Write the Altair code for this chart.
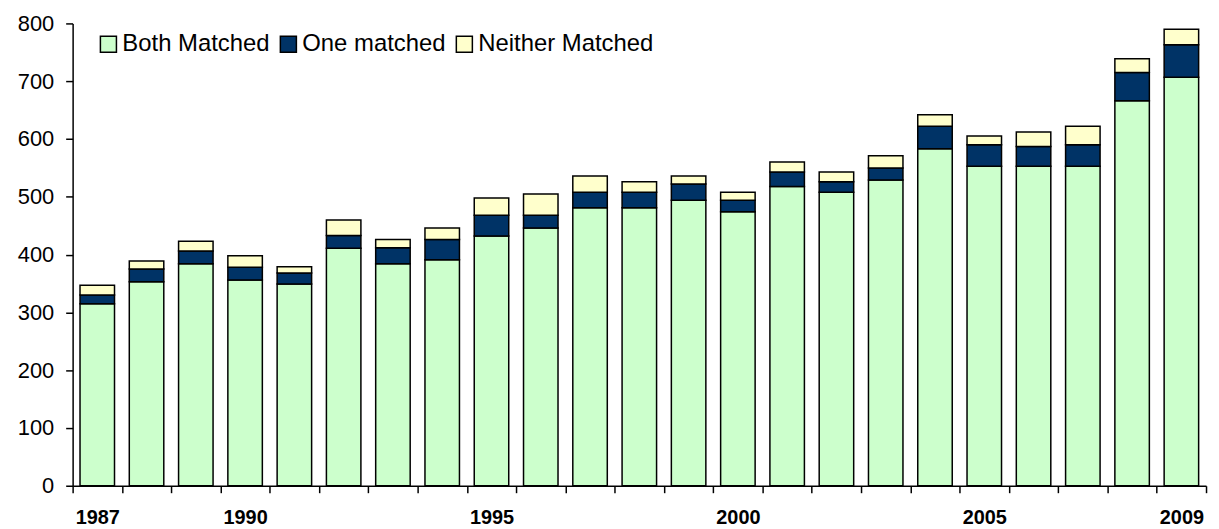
import altair as alt
import pandas as pd

years = list(range(1987, 2010))
both = [315, 353, 384, 356, 349, 411, 384, 391, 432, 446, 481, 481, 494, 474, 518, 508, 529, 583, 553, 553, 553, 666, 707]
one = [15, 22, 22, 22, 19, 22, 28, 35, 36, 22, 27, 27, 28, 20, 25, 18, 21, 39, 37, 34, 37, 49, 56]
neither = [17, 14, 17, 20, 11, 27, 14, 20, 30, 37, 28, 18, 14, 14, 17, 17, 21, 20, 15, 25, 32, 24, 27]
series = ["Both Matched", "One matched", "Neither Matched"]
colors = ["#CCFFCC", "#003366", "#FFFFCC"]
shown_years = ["1987", "1990", "1995", "2000", "2005", "2009"]

rows = []
for i, y in enumerate(years):
    for k, (name, vals) in enumerate(zip(series, [both, one, neither])):
        rows.append({"year": str(y), "series": name, "value": vals[i], "order": k})
df = pd.DataFrame(rows)

font = "Liberation Sans"
label_expr = "indexof([" + ",".join(f"'{s}'" for s in shown_years) + "], datum.value) >= 0 ? datum.value : ''"

chart = alt.Chart(df).mark_bar(stroke="black", strokeWidth=1.5,
                               width=alt.RelativeBandSize(0.7)).encode(
    x=alt.X("year:N", title=None,
            scale=alt.Scale(paddingInner=0, paddingOuter=0),
            axis=alt.Axis(labelAngle=0, tickBand="extent", labelAlign="center",
                          labelExpr=label_expr, labelFont=font, labelFontSize=20,
                          labelFontWeight="bold", labelColor="black", labelPadding=15,
                          tickColor="black", tickSize=7, domainColor="black",
                          domainWidth=1.5, tickWidth=1.5)),
    y=alt.Y("value:Q", title=None, stack="zero",
            scale=alt.Scale(domain=[0, 800], nice=False),
            axis=alt.Axis(values=list(range(0, 801, 100)), grid=False,
                          labelFont=font, labelFontSize=22, labelColor="black",
                          labelPadding=12, tickColor="black", tickSize=7,
                          domainColor="black", domainWidth=1.5, tickWidth=1.5)),
    color=alt.Color("series:N", sort=series,
                    scale=alt.Scale(domain=series, range=colors),
                    legend=alt.Legend(title=None, orient="none", legendX=24, legendY=9,
                                      direction="horizontal", symbolType="square",
                                      symbolSize=260, symbolStrokeColor="black",
                                      symbolStrokeWidth=1.5, labelFont=font,
                                      labelFontSize=24, labelColor="black",
                                      labelLimit=500, columnPadding=6, labelOffset=2)),
    order=alt.Order("order:Q"),
).properties(
    width=1140, height=465,
    autosize=alt.AutoSizeParams(type="none"),
    padding={"left": 65, "top": 14, "right": 5, "bottom": 40},
).configure_view(stroke=None)

chart.save("out.html", embed_options={"renderer": "svg", "actions": False})
